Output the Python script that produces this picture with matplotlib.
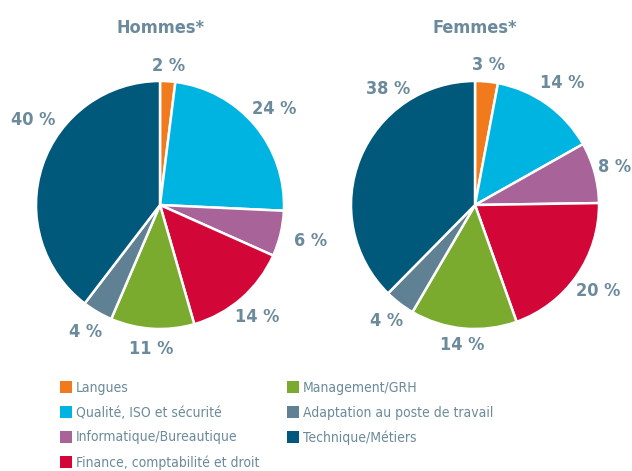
import numpy as np
import matplotlib.pyplot as plt

# Données
categories = ["Langues", "Qualité, ISO et sécurité", "Informatique/Bureautique",
              "Finance, comptabilité et droit", "Management/GRH",
              "Adaptation au poste de travail", "Technique/Métiers"]
hommes = [2, 24, 6, 14, 11, 4, 40]
femmes = [3, 14, 8, 20, 14, 4, 38]
titres = ["Hommes*", "Femmes*"]

couleurs = ["#f07a1c", "#00b4e2", "#a86499", "#d30638", "#7bab2e", "#5f8193", "#00587a"]
gris_texte = "#6b8a9b"

plt.rcParams['font.family'] = ["DejaVu Sans"]
plt.rcParams['font.stretch'] = "condensed"

fig = plt.figure(figsize=(6.32, 4.71), dpi=100)
W, H = 632, 471
R = 124          # rayon en pixels
lim = 1.28
cote = 2 * lim * R

# placement des étiquettes (décalage en degrés, distance)
decalages = [[0, 0, 0, 0, 0, 0, 15], [0, 0, 0, 0, 0, 0, 31]]
distances = [[1.12, 1.2, 1.25, 1.2, 1.16, 1.19, 1.23],
             [1.13, 1.21, 1.17, 1.21, 1.13, 1.18, 1.17]]

for i, (cx, valeurs, titre) in enumerate([(160, hommes, titres[0]), (475, femmes, titres[1])]):
    cy = H - 205
    ax = fig.add_axes([(cx - cote / 2) / W, (cy - cote / 2) / H, cote / W, cote / H])
    wedges, _ = ax.pie(valeurs, colors=couleurs, startangle=90, counterclock=False,
                       wedgeprops=dict(edgecolor="white", linewidth=1.8))
    ax.set_xlim(-lim, lim)
    ax.set_ylim(-lim, lim)
    ax.set_aspect("equal")
    ax.axis("off")

    total = sum(valeurs)
    cumul = 0
    for v, d, r in zip(valeurs, decalages[i], distances[i]):
        milieu = 90 - 360 * (cumul + v / 2) / total - d
        cumul += v
        a = np.deg2rad(milieu)
        ax.text(r * np.cos(a), r * np.sin(a), "{} %".format(v),
                ha="center", va="center", fontsize=13, fontweight="bold",
                color=gris_texte)

    fig.text(cx / W, 1 - 28 / H, titre, ha="center", va="center",
             fontsize=13, fontweight="bold", color=gris_texte)

    if i == 0:
        poignees = wedges

# légende en deux colonnes
style_leg = dict(loc="upper left", frameon=False, handlelength=0.85, handleheight=0.95,
                 handletextpad=0.3, labelspacing=0.77, fontsize=10,
                 borderaxespad=0, borderpad=0)
legendes = [fig.legend(poignees[:4], categories[:4], bbox_to_anchor=(60 / W, 1 - 381 / H), **style_leg),
            fig.legend(poignees[4:], categories[4:], bbox_to_anchor=(287 / W, 1 - 381 / H), **style_leg)]
for leg in legendes:
    for t in leg.get_texts():
        t.set_color(gris_texte)
    for h in leg.legend_handles:
        h.set_edgecolor("none")

fig.savefig("out.png", dpi=100)
